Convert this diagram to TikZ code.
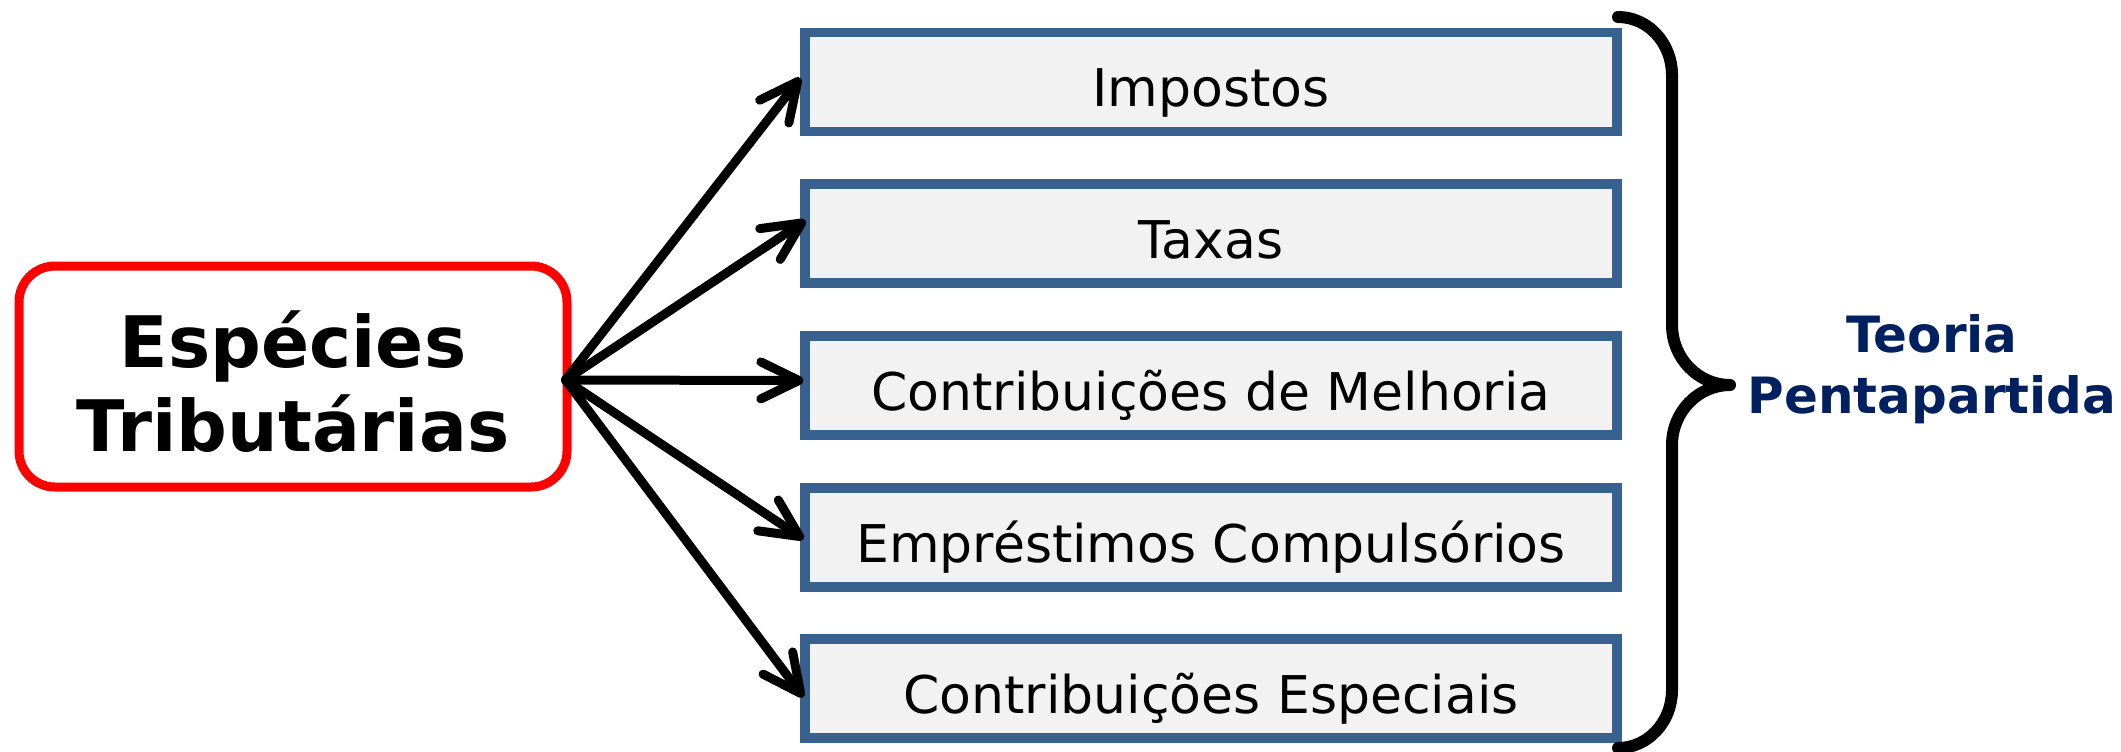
\documentclass[tikz,border=0pt]{standalone}
\usepackage{fontspec}
\setmainfont{DejaVu Sans}
\usetikzlibrary{arrows.meta}
\definecolor{boxblue}{HTML}{38618F}
\definecolor{boxfill}{HTML}{F2F2F2}
\definecolor{navytext}{HTML}{002060}
\begin{document}
\begin{tikzpicture}[x=0.5pt,y=-0.5pt,
  rootbox/.style={draw=red, line width=4.5pt, rounded corners=18pt, fill=white,
    minimum width=274pt, minimum height=110.5pt, inner sep=0pt, align=center,
    font=\fontsize{35.5pt}{42pt}\selectfont\bfseries},
  leafbox/.style={draw=boxblue, fill=boxfill, line width=4.65pt,
    minimum width=406pt, minimum height=49.4pt, inner sep=0pt,
    text height=24.5pt, text depth=0pt, font=\fontsize{26pt}{31pt}\selectfont},
  link/.style={line width=4.5pt, line cap=round, line join=round,
    -{Straight Barb[length=19pt,width=18.5pt,line cap=round,line join=round]}},
  bracestyle/.style={line width=6pt, line cap=round, line join=round},
  theory/.style={align=center, text=navytext, inner sep=0pt,
    font=\fontsize{25pt}{30.5pt}\selectfont\bfseries}
]
\useasboundingbox (0,0) rectangle (2121,751);

\node[rootbox] (root) at (293,376.5) {\rule{0pt}{33.5pt}Espécies\\Tributárias};

\node[leafbox] (b1) at (1211,82)    {Impostos};
\node[leafbox] (b2) at (1211,233.5) {Taxas};
\node[leafbox] (b3) at (1211,385.5) {Contribuições de Melhoria};
\node[leafbox] (b4) at (1211,537.5) {Empréstimos Compulsórios};
\node[leafbox] (b5) at (1211,688.5) {Contribuições Especiais};

\coordinate (hub) at ([xshift=-3pt,yshift=-1.75pt]root.east);
\draw[link] (hub) -- ([yshift=2pt]b1.west);
\draw[link] (hub) -- ([xshift=2.5pt,yshift=6.5pt]b2.west);
\draw[link] (hub) -- ([xshift=1.5pt,yshift=2.5pt]b3.west);
\draw[link] (hub) -- ([xshift=1.5pt,yshift=-0.75pt]b4.west);
\draw[link] (hub) -- ([xshift=1.5pt,yshift=-4.25pt]b5.west);

\draw[bracestyle] (1618,17) .. controls (1648,17) and (1672,43) .. (1672,75)
  -- (1672,325) .. controls (1672,358) and (1698,385) .. (1730,385)
  .. controls (1698,385) and (1672,412) .. (1672,445)
  -- (1672,690) .. controls (1672,722) and (1648,748) .. (1618,748);

\node[theory] (teo) at (1932,369) {Teoria\\Pentapartida};
\end{tikzpicture}
\end{document}
